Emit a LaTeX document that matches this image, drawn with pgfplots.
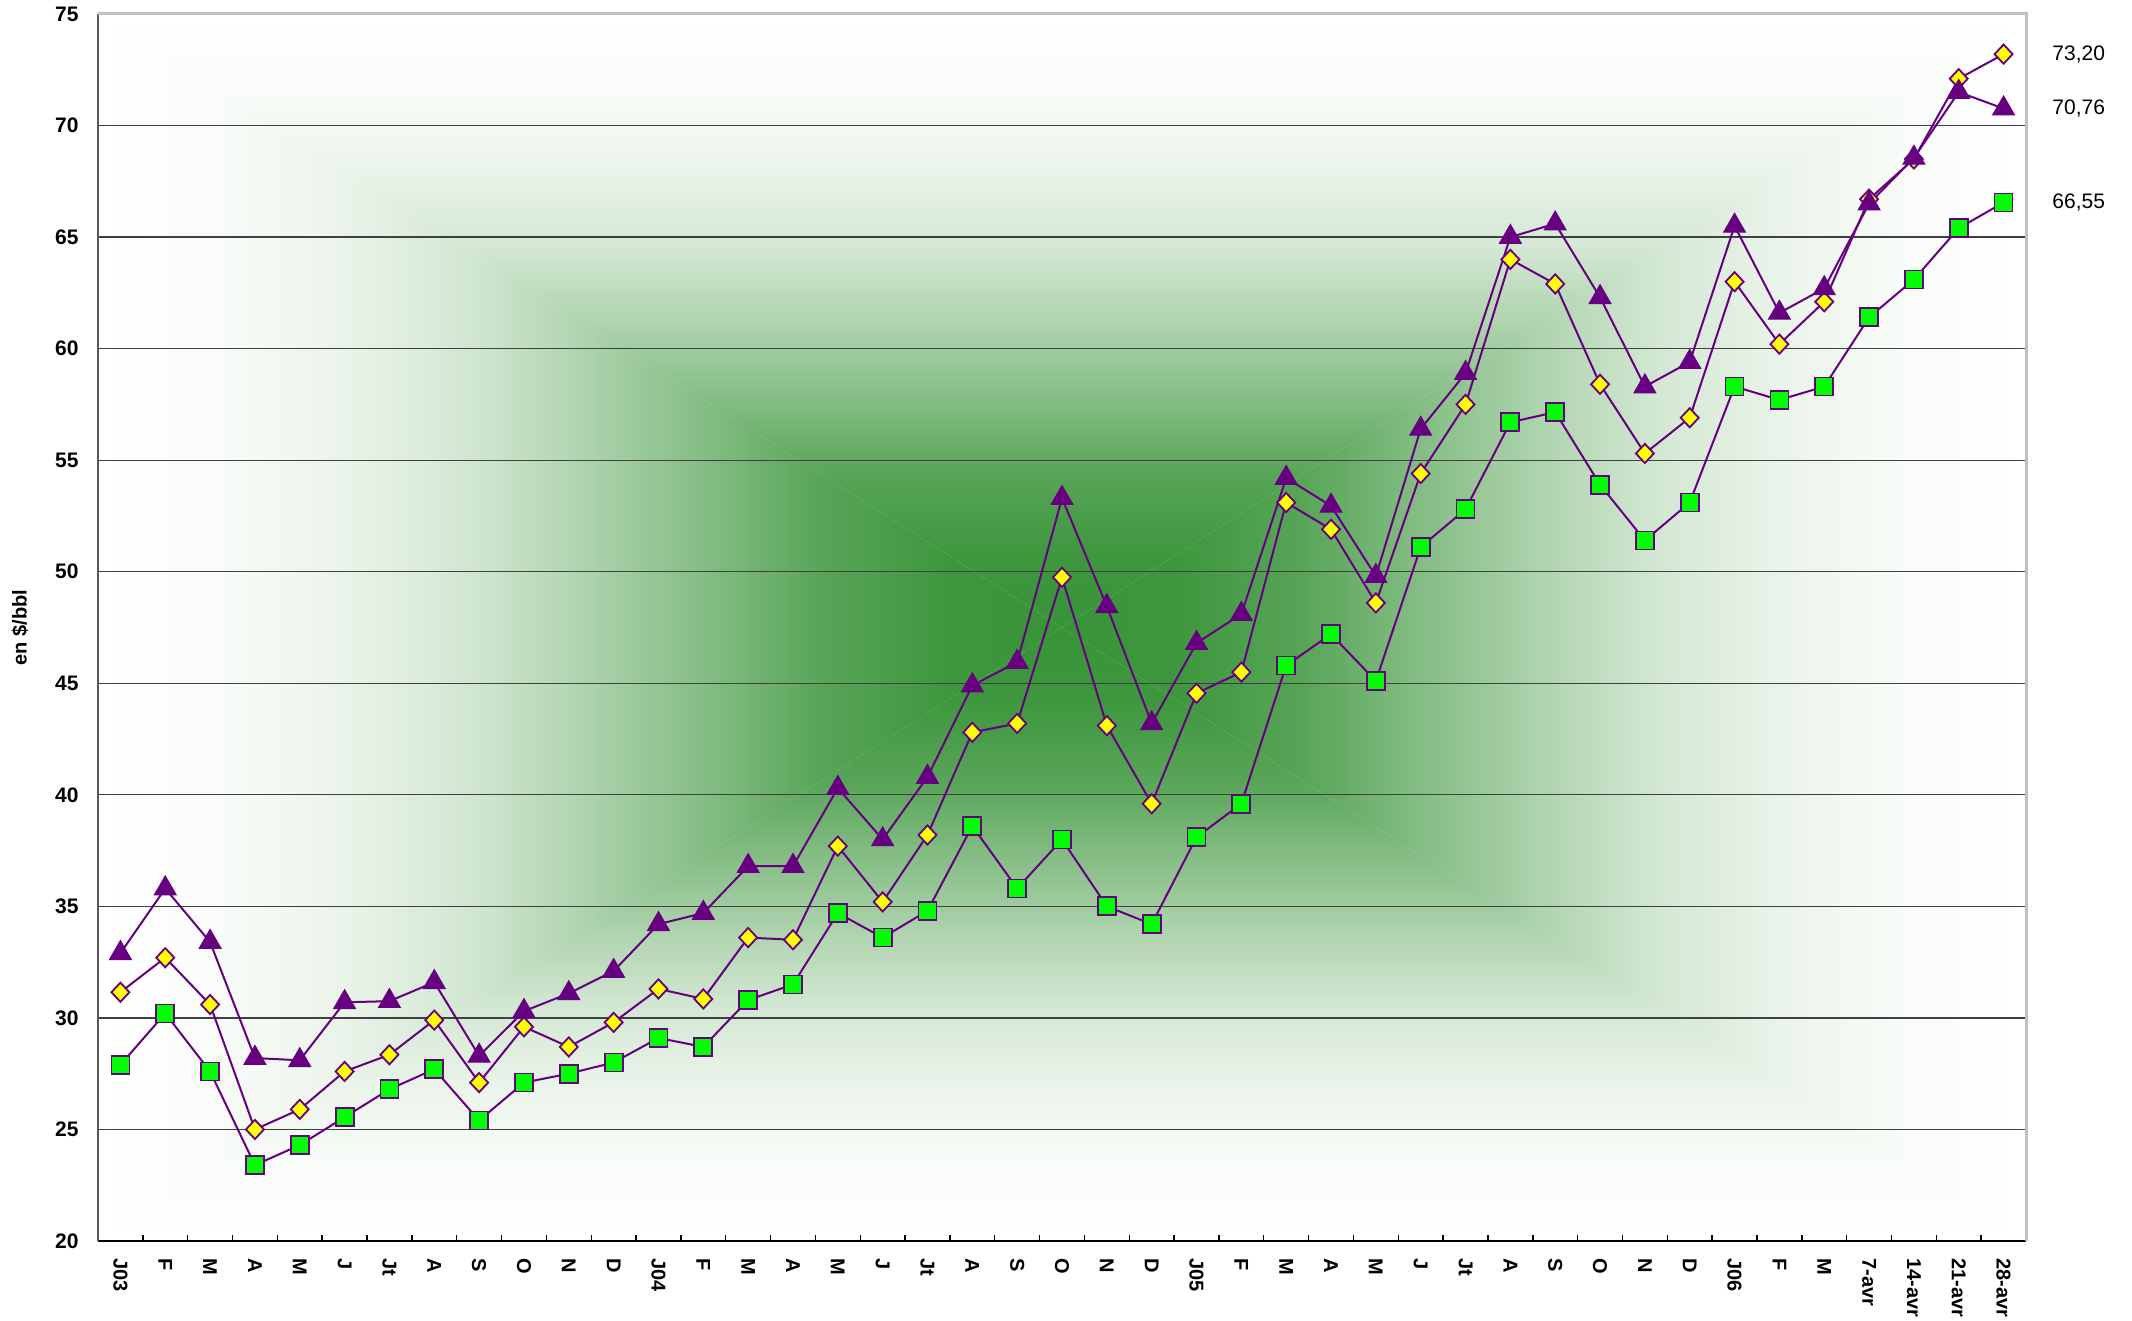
\documentclass[border=0pt]{standalone}
\usepackage{pgfplots}
\pgfplotsset{compat=1.18}
\usepackage{pgfplotstable}
\usepackage{fontspec}
\setmainfont{Liberation Sans}
\definecolor{gc}{RGB}{56,148,56}
\definecolor{pur}{RGB}{102,0,128}
\definecolor{grn}{RGB}{0,255,0}
\definecolor{yel}{RGB}{255,255,0}
\definecolor{bord}{RGB}{192,192,192}
\colorlet{g03}{gc!3!white}
\colorlet{g10}{gc!10!white}
\colorlet{g22}{gc!22!white}
\colorlet{g40}{gc!40!white}
\colorlet{g62}{gc!62!white}
\colorlet{g84}{gc!84!white}
\colorlet{g97}{gc!97!white}
\pgfdeclareverticalshading{rectfade}{100bp}{color(0bp)=(gc); color(25bp)=(gc); color(31bp)=(g97); color(37.5bp)=(g84); color(43.5bp)=(g62); color(50bp)=(g40); color(56bp)=(g22); color(62.5bp)=(g10); color(69bp)=(g03); color(75bp)=(white); color(100bp)=(white)}

\pgfplotstableread{
idx tri dia sq
0 32.9 31.15 27.9
1 35.8 32.7 30.2
2 33.4 30.6 27.6
3 28.2 25.0 23.4
4 28.1 25.9 24.3
5 30.7 27.6 25.55
6 30.75 28.35 26.8
7 31.6 29.9 27.7
8 28.3 27.1 25.4
9 30.3 29.6 27.1
10 31.1 28.7 27.5
11 32.1 29.8 28.0
12 34.2 31.3 29.1
13 34.7 30.85 28.7
14 36.8 33.6 30.8
15 36.8 33.5 31.5
16 40.3 37.7 34.7
17 38.0 35.2 33.6
18 40.8 38.2 34.8
19 44.9 42.8 38.6
20 45.95 43.2 35.8
21 53.3 49.75 38.0
22 48.45 43.1 35.0
23 43.2 39.6 34.2
24 46.8 44.55 38.1
25 48.1 45.5 39.6
26 54.2 53.1 45.8
27 52.95 51.9 47.2
28 49.8 48.6 45.1
29 56.4 54.4 51.1
30 58.9 57.5 52.8
31 65.0 64.0 56.7
32 65.6 62.9 57.15
33 62.3 58.4 53.9
34 58.3 55.3 51.4
35 59.4 56.9 53.1
36 65.5 63.0 58.3
37 61.6 60.2 57.7
38 62.7 62.1 58.3
39 66.5 66.7 61.4
40 68.55 68.5 63.1
41 71.5 72.1 65.4
42 70.76 73.2 66.55
}\oil

\begin{document}
\begin{tikzpicture}
\begin{axis}[
  set layers,
  scale only axis,
  width=964pt, height=613.5pt,
  xmin=-0.5, xmax=42.5, ymin=20, ymax=75,
  clip=false,
  axis x line*=bottom, axis y line*=left,
  x axis line style={black, line width=1pt},
  y axis line style={black!65, line width=1pt},
  xtick={-0.5,0.5,...,42.5},
  x tick label as interval,
  xticklabels={J03,F,M,A,M,J,Jt,A,S,O,N,D,J04,F,M,A,M,J,Jt,A,S,O,N,D,J05,F,M,A,M,J,Jt,A,S,O,N,D,J06,F,M,7-avr,14-avr,21-avr,28-avr},
  xticklabel style={font=\bfseries\fontsize{10}{12}\selectfont, yshift=-8.5pt, rotate=-90, anchor=west, inner sep=0pt},
  ytick={20,25,...,75},
  yticklabel style={font=\bfseries\fontsize{10.5}{12}\selectfont, anchor=east, inner sep=0pt, xshift=-9.5pt},
  /pgf/number format/assume math mode=true,
  tick align=inside,
  major tick length=3pt,
  x tick style={black, line width=0.7pt},
  y tick style={black!75, line width=0.6pt},
  ymajorgrids,
  major grid style={black!75, line width=0.6pt},
]
\begin{pgfonlayer}{axis background}
  \shade[shading=rectfade, shading angle=0] (rel axis cs:0.5,0.5) -- (rel axis cs:0,1) -- (rel axis cs:1,1) -- cycle;
  \shade[shading=rectfade, shading angle=180] (rel axis cs:0.5,0.5) -- (rel axis cs:0,0) -- (rel axis cs:1,0) -- cycle;
  \shade[shading=rectfade, shading angle=90] (rel axis cs:0.5,0.5) -- (rel axis cs:0,0) -- (rel axis cs:0,1) -- cycle;
  \shade[shading=rectfade, shading angle=270] (rel axis cs:0.5,0.5) -- (rel axis cs:1,0) -- (rel axis cs:1,1) -- cycle;
\end{pgfonlayer}
\draw[bord, line width=1.5pt] (rel axis cs:0,1) -- (rel axis cs:1,1) -- (rel axis cs:1,0);

\addplot[pur, line width=1pt, mark=square*, mark size=4.5pt, mark options={fill=grn, draw=pur, line width=0.9pt}] table[x=idx, y=sq] {\oil};
\addplot[pur, line width=1pt, mark=diamond*, mark size=4.8pt, mark options={fill=yel, draw=pur, line width=0.9pt, xscale=1.25}] table[x=idx, y=dia] {\oil};
\addplot[pur, line width=1pt, mark=triangle*, mark size=6.3pt, mark options={fill=pur, draw=pur, line width=0.5pt}] table[x=idx, y=tri] {\oil};

\node[anchor=west, font=\fontsize{10.5}{12}\selectfont, inner sep=0pt, xshift=13pt] at (axis cs:42.5,73.2) {73,20};
\node[anchor=west, font=\fontsize{10.5}{12}\selectfont, inner sep=0pt, xshift=13pt] at (axis cs:42.5,70.76) {70,76};
\node[anchor=west, font=\fontsize{10.5}{12}\selectfont, inner sep=0pt, xshift=13pt] at (axis cs:42.5,66.55) {66,55};
\node[font=\bfseries\fontsize{10}{12}\selectfont, xshift=-39pt, rotate=90] at (rel axis cs:0,0.5) {en \$/bbl};
\end{axis}
\pgfresetboundingbox
\path[use as bounding box] (-49pt,-40pt) rectangle (1017pt,620.5pt);
\end{tikzpicture}
\end{document}
